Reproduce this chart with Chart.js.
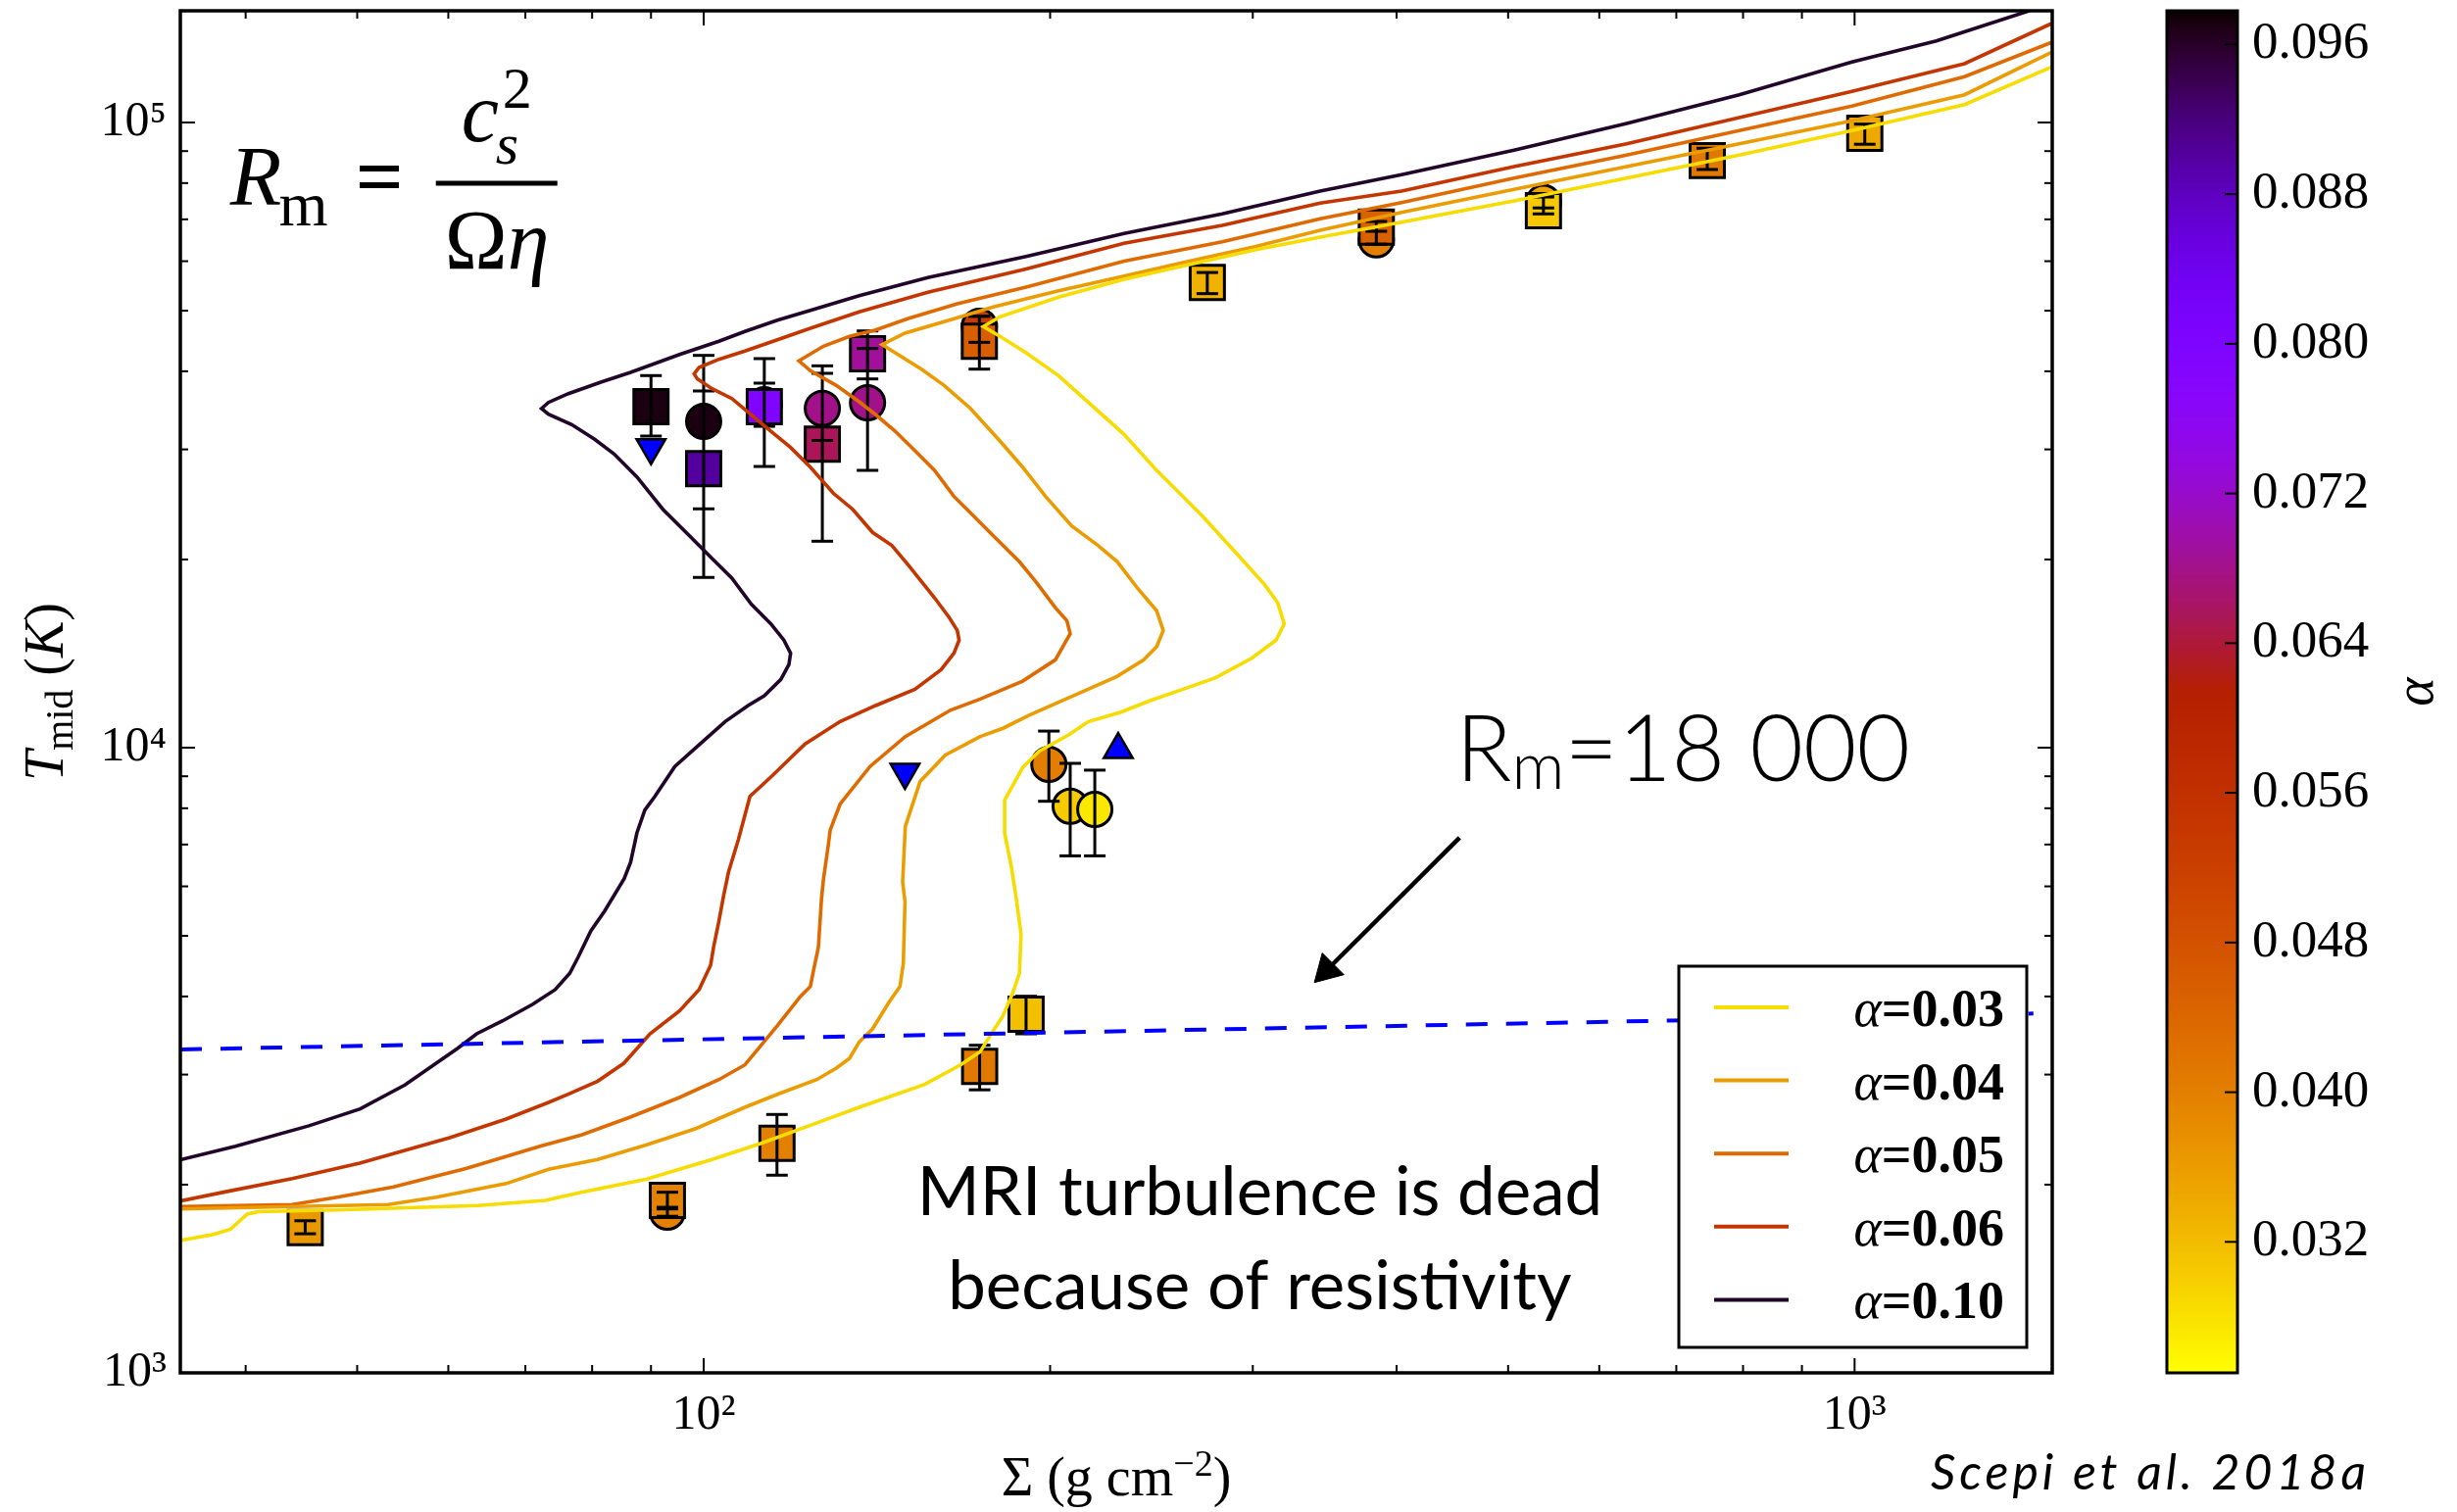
<!DOCTYPE html>
<html>
<head>
<meta charset="utf-8">
<script src="https://cdn.jsdelivr.net/npm/chart.js@4.4.1/dist/chart.umd.min.js"></script>
<style>
  html, body { margin: 0; padding: 0; background: #fff; }
  #wrap { width: 2507px; height: 1543px; }
</style>
</head>
<body>
<div id="wrap"><canvas id="chart" width="2507" height="1543"></canvas></div>
<script>
// thermal equilibrium curves, [Sigma (g cm^-2), T_mid (K)]
const curveA003 = [[35.05,1628],[37.50,1665],[38.80,1697],[40.13,1795],[41.05,1811],[48.05,1822],[63.68,1852],[72.88,1887],[78.30,1945],[89.24,2041],[101.7,2194],[112.2,2329],[123.8,2489],[136.5,2659],[155.6,2893],[167.2,3109],[173.9,3263],[177.4,3465],[182.0,3724],[185.6,4052],[188.1,4356],[188.7,5032],[186.9,5742],[185.0,6478],[182.6,7306],[182.6,8238],[189.3,9294],[195.6,9867],[207.5,10480],[215.8,11000],[230.4,11400],[244.3,11890],[260.9,12400],[278.5,12940],[299.3,13900],[314.3,14860],[319.5,15780],[315.3,17060],[307.2,18230],[289.6,20560],[271.3,23460],[257.5,25840],[247.5,27770],[231.9,31700],[217.2,35330],[203.4,39370],[190.6,42820],[180.9,45480],[175.0,47150],[180.9,48890],[203.4,52550],[231.9,56130],[264.2,59280],[301.2,62550],[343.3,65560],[404.0,69280],[506.0,74920],[633.8,81490],[793.9,88680],[994.7,97050],[1246,106830],[1483,122710]];
const curveA004 = [[35.05,1829],[53.18,1859],[58.58,1910],[67.36,2008],[73.33,2116],[80.90,2194],[89.24,2316],[98.44,2459],[108.6,2659],[115.9,2790],[125.4,2945],[130.4,3072],[133.9,3185],[136.5,3383],[140.2,3549],[144.8,3909],[148.1,4150],[149.1,4515],[149.6,5675],[148.9,6101],[149.7,7482],[154.2,8829],[162.1,9726],[173.9,10420],[182.0,10740],[191.8,11270],[203.4,11820],[215.8,12400],[228.8,13010],[241.2,13820],[247.5,14500],[250.8,15400],[247.5,16560],[238.1,18010],[228.8,19830],[220.1,21060],[208.8,22630],[198.2,25220],[189.3,28100],[180.9,30940],[170.5,34890],[161.8,37970],[154.6,40320],[146.7,42820],[142.9,44120],[149.6,46030],[161.8,48010],[178.5,50690],[203.4,53810],[231.9,56800],[264.2,59990],[301.2,63300],[343.3,67230],[404.0,71830],[506.0,78160],[633.8,85010],[793.9,92480],[994.7,100610],[1246,110750],[1483,129560]];
const curveA005 = [[35.05,1845],[43.91,1859],[48.05,1910],[53.77,1984],[62.26,2125],[72.08,2304],[78.30,2401],[86.36,2565],[95.27,2757],[103.1,2945],[108.6,3109],[112.2,3342],[115.9,3592],[121.4,4003],[123.8,4150],[124.6,4408],[125.8,4794],[126.6,5742],[127.1,6172],[128.3,6963],[128.8,7379],[131.4,8126],[139.5,9331],[149.7,10420],[163.8,11480],[173.9,11960],[189.3,12780],[202.1,13820],[208.2,15220],[206.8,15970],[202.1,16750],[194.3,18450],[188.1,19830],[178.5,21830],[170.5,23750],[165.0,25220],[158.7,27770],[153.6,29500],[146.7,32080],[141.1,34080],[136.5,35750],[130.4,37970],[123.8,40090],[121.0,41560],[123.0,42320],[127.1,43870],[133.9,45480],[141.1,46580],[150.6,48590],[166.1,51290],[190.6,54540],[231.9,59990],[282.2,64460],[343.3,70140],[404.0,74460],[506.0,81490],[633.8,88680],[793.9,97050],[994.7,106210],[1246,118360],[1483,134330]];
const curveA006 = [[35.05,1882],[38.36,1947],[43.91,2046],[50.26,2165],[60.18,2378],[67.36,2547],[73.33,2708],[76.27,2790],[80.90,2928],[85.25,3128],[89.82,3486],[95.27,3792],[99.08,4101],[101.4,4488],[102.0,4794],[103.1,5279],[104.1,5813],[105.1,6323],[107.2,7131],[109.7,8355],[114.2,8951],[122.5,10140],[131.4,11010],[141.1,11680],[152.6,12400],[160.8,13330],[165.0,14160],[166.7,14860],[166.1,15400],[163.4,16160],[158.7,17370],[150.6,19590],[145.7,21060],[140.2,22100],[134.8,24040],[129.6,25530],[123.8,28100],[119.0,30210],[114.4,32080],[110.0,34080],[105.8,36180],[101.7,37510],[98.77,38890],[98.11,39600],[99.08,40570],[103.1,41800],[108.6,43090],[115.9,44930],[123.8,46870],[136.5,49780],[156.6,53500],[190.6,58280],[231.9,64080],[282.2,68450],[343.3,74300],[404.0,77680],[506.0,85010],[633.8,92480],[793.9,101820],[994.7,112120],[1246,124180],[1483,144000]];
const curveA010 = [[35.1,2192],[39.2,2304],[45.4,2484],[50.3,2644],[55.0,2886],[61.1,3302],[63.5,3486],[66.9,3657],[71.0,3885],[74.3,4101],[76.5,4356],[77.8,4624],[79.8,5092],[82.0,5473],[85.3,6172],[86.4,6556],[87.5,7305],[88.9,7946],[90.7,8355],[94.4,9331],[99.3,10140],[104.4,11010],[109.3,11680],[112.9,12110],[116.7,12860],[118.6,13580],[119.0,14160],[117.4,14860],[114.4,15780],[110.0,16960],[105.8,18670],[101.7,20070],[97.2,21830],[92.2,24040],[87.5,27110],[83.6,29500],[80.4,31140],[76.8,32870],[73.3,34150],[72.3,34860],[73.3,35660],[76.3,36840],[81.4,38430],[86.4,39840],[95.3,42560],[103.1,44670],[108.6,46310],[115.9,48290],[123.8,50070],[136.5,52850],[156.6,56480],[190.6,61060],[231.9,66430],[282.2,71410],[343.3,77680],[404.0,82500],[506.0,90290],[633.8,99640],[793.9,110750],[994.7,124950],[1177.8,135070],[1418,150900]];

// simulation points: squares
const squareSigma = [90.0, 100.0, 112.9, 126.8, 138.8, 173.6, 190.6, 173.7, 45.06, 93.0, 115.8, 273.9, 384.1, 536.6, 744.7, 1020.6];
const squareT     = [35110, 27940, 35110, 30580, 42670, 44670, 3747, 3091, 1707, 1888, 2329, 55480, 68040, 72290, 86900, 96100];
const squareLo    = [31510, 24100, 28170, 21390, 38890, 40320, 3486, 2836, 1669, 1829, 2071, 53240, 63850, 71420, 84100, 92300];
const squareHi    = [39370, 37200, 41910, 40810, 46410, 48990, 4003, 3342, 1751, 1945, 2590, 57550, 69460, 76770, 90950, 99400];
const squareAlpha = [0.097, 0.090, 0.0796, 0.0655, 0.0688, 0.0456, 0.0316, 0.0412, 0.0365, 0.0396, 0.040, 0.0334, 0.045, 0.0307, 0.041, 0.0345];

// simulation points: circles
const circleSigma = [100.0, 112.9, 126.8, 138.8, 173.6, 199.5, 208.2, 218.7, 93.0, 384.1, 536.6];
const circleT     = [33250, 35370, 34890, 35620, 47210, 9405, 8062, 7966, 1807, 64900, 74500];
const circleLo    = [18720, 32660, 31000, 27770, 44500, 8209, 6714, 6714, 1780, 63850, 73000];
const circleHi    = [42410, 38290, 39700, 43500, 48990, 10630, 9439, 9206, 1840, 66990, 76000];
const circleAlpha = [0.097, 0.097, 0.068, 0.068, 0.053, 0.0403, 0.0302, 0.0273, 0.040, 0.040, 0.035];

// limits: triangles
const triDownSigma = [90.0, 149.6];
const triDownT = [30210, 9137];
const triUpSigma = [229.2];
const triUpT = [9928];

// Rm = 18 000 line and arrow
const rmSigma = [35.1, 1430];
const rmT = [3291, 3756];
const arrowSigma = [453.7, 347.9];
const arrowT = [7177, 4408];

const lineLabels = ['0.03', '0.04', '0.05', '0.06', '0.10'];
const cbMin = 0.025, cbMax = 0.0978;
const cbTicks = [0.032, 0.040, 0.048, 0.056, 0.064, 0.072, 0.080, 0.088, 0.096];
const xTickLabels = { 100: '10²', 1000: '10³' };
const yTickLabels = { 1000: '10³', 10000: '10⁴', 100000: '10⁵' };

const SERIF = '"Liberation Serif", "DejaVu Serif", serif';
const SANS = 'Lato, "Open Sans", sans-serif';

// gnuplot_r colour map
function cmap(a) {
  let s = (a - cbMin) / (cbMax - cbMin);
  s = Math.min(1, Math.max(0, s));
  const t = 1 - s;
  const r = Math.sqrt(t), g = t * t * t, b = Math.max(0, Math.sin(2 * Math.PI * t));
  return `rgb(${Math.round(r * 255)},${Math.round(g * 255)},${Math.round(b * 255)})`;
}

const pairs = (arr) => arr.map(([x, y]) => ({ x, y }));
const zip = (xs, ys) => xs.map((x, i) => ({ x, y: ys[i] }));
function errorSegments(xs, lo, hi) {
  const pts = [];
  xs.forEach((x, i) => pts.push({ x, y: lo[i] }, { x, y: hi[i] }, { x, y: null }));
  return pts;
}

const curveStyle = (data, color, label) => ({
  type: 'line', data: pairs(data), borderColor: color, borderWidth: 3.6,
  pointRadius: 0, tension: 0, fill: false, order: 1, legendText: label,
});

const datasets = [
  curveStyle(curveA003, '#f7dc00', lineLabels[0]),
  curveStyle(curveA004, '#ea9c00', lineLabels[1]),
  curveStyle(curveA005, '#df6b00', lineLabels[2]),
  curveStyle(curveA006, '#c33600', lineLabels[3]),
  curveStyle(curveA010, '#22062a', lineLabels[4]),
  {
    type: 'line', data: zip(rmSigma, rmT), borderColor: '#0000ff', borderWidth: 4,
    borderDash: [22, 19], pointRadius: 0, order: 0,
  },
  {
    type: 'line', data: zip(arrowSigma, arrowT), borderColor: '#000', borderWidth: 4.5,
    pointRadius: [0, 18], pointStyle: 'triangle', pointRotation: [0, 225],
    pointBackgroundColor: '#000', pointBorderColor: '#000', pointBorderWidth: 1, order: 0,
  },
  {
    type: 'line', data: errorSegments(squareSigma.concat(circleSigma), squareLo.concat(circleLo), squareHi.concat(circleHi)),
    borderColor: '#000', borderWidth: 3, pointStyle: 'line', pointRadius: 11,
    pointBorderColor: '#000', pointBorderWidth: 3, spanGaps: false, order: 2,
  },
  {
    type: 'line', showLine: false, data: zip(circleSigma, circleT), pointStyle: 'circle',
    pointRadius: 17.5, pointBorderWidth: 3, pointBorderColor: '#000',
    pointBackgroundColor: circleAlpha.map(cmap), order: 4,
  },
  {
    type: 'line', showLine: false, data: zip(squareSigma, squareT), pointStyle: 'rect',
    pointRadius: 24.7, pointBorderWidth: 3, pointBorderColor: '#000',
    pointBackgroundColor: squareAlpha.map(cmap), order: 3,
  },
  {
    type: 'line', showLine: false, data: zip(triDownSigma, triDownT), pointStyle: 'triangle',
    pointRotation: 180, pointRadius: 17, pointBorderWidth: 2.5, pointBorderColor: '#000',
    pointBackgroundColor: '#0000ff', order: 3,
  },
  {
    type: 'line', showLine: false, data: zip(triUpSigma, triUpT), pointStyle: 'triangle',
    pointRadius: 17, pointBorderWidth: 2.5, pointBorderColor: '#000',
    pointBackgroundColor: '#0000ff', order: 3,
  },
];

function tickKind(v) {
  const e = Math.floor(Math.log10(v) + 1e-9);
  const s = v / Math.pow(10, e);
  if (Math.abs(s - Math.round(s)) > 1e-6) return null;
  return Math.round(s) === 1 ? 'major' : 'minor';
}

function seg(ctx, x1, y1, x2, y2) {
  ctx.beginPath(); ctx.moveTo(x1, y1); ctx.lineTo(x2, y2); ctx.stroke();
}

// draw a row of text pieces: [text, font, dy]
function textRun(ctx, x, y, parts, align) {
  let w = 0;
  parts.forEach((p) => { ctx.font = p[1]; w += ctx.measureText(p[0]).width; });
  let cx = align === 'center' ? x - w / 2 : align === 'right' ? x - w : x;
  parts.forEach((p) => {
    ctx.font = p[1];
    ctx.fillText(p[0], cx, y + (p[2] || 0));
    cx += ctx.measureText(p[0]).width;
  });
}

function drawFrame(ctx, a, sx, sy) {
  ctx.strokeStyle = '#000';
  ctx.lineWidth = 2;
  sx.ticks.forEach((t) => {
    const kind = tickKind(t.value);
    if (!kind) return;
    const px = sx.getPixelForValue(t.value);
    if (px < a.left + 2 || px > a.right - 2) return;
    const len = kind === 'major' ? 15 : 8;
    seg(ctx, px, a.bottom, px, a.bottom - len);
    seg(ctx, px, a.top, px, a.top + len);
  });
  sy.ticks.forEach((t) => {
    const kind = tickKind(t.value);
    if (!kind) return;
    const py = sy.getPixelForValue(t.value);
    if (py < a.top + 2 || py > a.bottom - 2) return;
    const len = kind === 'major' ? 15 : 8;
    seg(ctx, a.left, py, a.left + len, py);
    seg(ctx, a.right, py, a.right - len, py);
  });
  ctx.lineWidth = 3.5;
  ctx.strokeRect(a.left, a.top, a.right - a.left, a.bottom - a.top);
}

function drawLegend(ctx, a, sets) {
  const items = sets.filter((d) => d.legendText);
  const left = a.right - 381, top = a.bottom - 415, w = 355, h = 389;
  ctx.fillStyle = '#fff';
  ctx.fillRect(left, top, w, h);
  ctx.strokeStyle = '#000';
  ctx.lineWidth = 3;
  ctx.strokeRect(left, top, w, h);
  items.forEach((d, i) => {
    const y = top + 42 + i * 74.6;
    ctx.strokeStyle = d.borderColor;
    ctx.lineWidth = 4;
    seg(ctx, left + 36, y, left + 112, y);
    ctx.fillStyle = '#000';
    textRun(ctx, left + 332, y + 19, [
      ['α', `italic 54px ${SERIF}`],
      ['=' + d.legendText, `bold 54px ${SERIF}`],
    ], 'right');
  });
}

function drawColorbar(ctx, a, cb) {
  const left = a.right + 117, right = left + 72;
  const top = cb.getPixelForValue(cbMax), bottom = cb.getPixelForValue(cbMin);
  for (let py = Math.floor(top); py < bottom; py++) {
    ctx.fillStyle = cmap(cb.getValueForPixel(py + 0.5));
    ctx.fillRect(left, py, right - left, 1);
  }
  ctx.strokeStyle = '#000';
  ctx.lineWidth = 2;
  ctx.fillStyle = '#000';
  ctx.font = `53px ${SERIF}`;
  ctx.textAlign = 'left';
  ctx.textBaseline = 'middle';
  cbTicks.forEach((v) => {
    const py = cb.getPixelForValue(v);
    seg(ctx, right, py, right - 13, py);
    ctx.fillText(v.toFixed(3), right + 15, py);
  });
  ctx.lineWidth = 3;
  ctx.strokeRect(left, top, right - left, bottom - top);
  ctx.save();
  ctx.translate(a.right + 373, (top + bottom) / 2);
  ctx.rotate(-Math.PI / 2);
  ctx.textAlign = 'center';
  ctx.font = `italic 56px ${SERIF}`;
  ctx.fillText('α', 0, 0);
  ctx.restore();
}

function drawNotes(ctx, chart) {
  const { x: sx, y: sy } = chart.scales;
  const a = chart.chartArea;
  ctx.fillStyle = '#000';
  ctx.strokeStyle = '#000';
  ctx.textAlign = 'left';
  ctx.textBaseline = 'alphabetic';

  // R_m = c_s^2 / (Omega eta)
  const fx = sx.getPixelForValue(38.77), fy = sy.getPixelForValue(73850);
  const big = `86px ${SERIF}`, bigI = `italic 86px ${SERIF}`;
  ctx.font = bigI; ctx.fillText('R', fx, fy);
  ctx.font = `64px ${SERIF}`; ctx.fillText('m', fx + 50, fy + 21);
  ctx.font = `bold 86px ${SERIF}`; ctx.fillText('=', fx + 128, fy);
  ctx.lineWidth = 5;
  seg(ctx, fx + 210, fy - 22, fx + 334, fy - 22);
  ctx.font = bigI; ctx.fillText('c', fx + 236, fy - 65);
  ctx.font = `italic 60px ${SERIF}`; ctx.fillText('s', fx + 271, fy - 42);
  ctx.font = `60px ${SERIF}`; ctx.fillText('2', fx + 278, fy - 99);
  ctx.font = big; ctx.fillText('Ω', fx + 219, fy + 65);
  ctx.font = bigI; ctx.fillText('η', fx + 283, fy + 65);

  // Rm = 18 000
  textRun(ctx, sx.getPixelForValue(450.3), sy.getPixelForValue(8845), [
    ['R', `300 94px ${SANS}`], ['m', `300 67px ${SANS}`, 8], ['=18 000', `300 94px ${SANS}`],
  ], 'left');

  // dead zone note
  ctx.font = `400 69px ${SANS}`;
  ctx.textAlign = 'center';
  const nx = sx.getPixelForValue(304.2);
  ctx.fillText('MRI turbulence is dead', nx, sy.getPixelForValue(1788));
  ctx.fillText('because of resistivity', nx, sy.getPixelForValue(1264));

  // axis titles
  ctx.textAlign = 'left';
  textRun(ctx, (a.left + a.right) / 2, chart.height - 17, [
    ['Σ (g cm', `56px ${SERIF}`], ['−2', `38px ${SERIF}`, -20], [')', `56px ${SERIF}`],
  ], 'center');
  ctx.save();
  ctx.translate(64, (a.top + a.bottom) / 2);
  ctx.rotate(-Math.PI / 2);
  textRun(ctx, 0, 0, [
    ['T', `italic 56px ${SERIF}`], ['mid', `40px ${SERIF}`, 10], [' (', `56px ${SERIF}`],
    ['K', `italic 56px ${SERIF}`], [')', `56px ${SERIF}`],
  ], 'center');
  ctx.restore();

  // credit
  ctx.save();
  ctx.font = `italic 400 50px ${SANS}`;
  ctx.letterSpacing = '4px';
  ctx.textAlign = 'right';
  ctx.fillText('Scepi et al. 2018a', chart.width - 89, chart.height - 23);
  ctx.restore();
}

const decorations = {
  id: 'decorations',
  beforeDraw(chart) {
    const { ctx, width, height } = chart;
    ctx.save();
    ctx.fillStyle = '#fff';
    ctx.fillRect(0, 0, width, height);
    ctx.restore();
  },
  afterDatasetsDraw(chart) {
    const { ctx, chartArea, scales } = chart;
    ctx.save();
    drawFrame(ctx, chartArea, scales.x, scales.y);
    drawLegend(ctx, chartArea, chart.data.datasets);
    drawNotes(ctx, chart);
    drawColorbar(ctx, chartArea, scales.cb);
    ctx.restore();
  },
};

new Chart(document.getElementById('chart'), {
  data: { datasets },
  options: {
    responsive: false,
    animation: false,
    events: [],
    layout: { autoPadding: false, padding: { top: 11, right: 413, bottom: 0, left: 0 } },
    plugins: { legend: { display: false }, tooltip: { enabled: false } },
    scales: {
      x: {
        type: 'logarithmic', min: 35.1, max: 1485,
        grid: { display: false, drawTicks: false }, border: { display: false },
        ticks: {
          autoSkip: false, maxRotation: 0, minRotation: 0, padding: 14, color: '#000',
          font: { family: SERIF, size: 50 },
          callback: (v) => xTickLabels[v] || '',
        },
        afterFit: (s) => { s.height = 142; s.paddingLeft = 0; s.paddingRight = 0; },
      },
      y: {
        type: 'logarithmic', min: 1000, max: 150900,
        grid: { display: false, drawTicks: false }, border: { display: false },
        ticks: {
          autoSkip: false, padding: 14, color: '#000',
          font: { family: SERIF, size: 50 },
          callback: (v) => yTickLabels[v] || '',
        },
        afterFit: (s) => { s.width = 184; s.paddingTop = 0; s.paddingBottom = 0; },
      },
      cb: { type: 'linear', display: false, position: 'right', min: cbMin, max: cbMax },
    },
  },
  plugins: [decorations],
});
</script>
</body>
</html>
